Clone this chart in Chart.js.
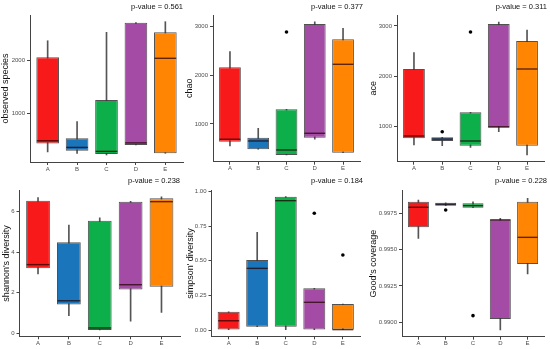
<!DOCTYPE html>
<html><head><meta charset="utf-8">
<script src="https://cdn.jsdelivr.net/npm/chart.js@4.4.0/dist/chart.umd.min.js"></script>
<style>
html,body{margin:0;padding:0;background:#fff;}
body{width:550px;height:349px;position:relative;overflow:hidden;}
.p{position:absolute;}
</style></head><body>
<div class="p" style="left:0px;top:0px;width:184px;height:174px"><canvas id="c1"></canvas></div>
<div class="p" style="left:182px;top:0px;width:182px;height:174px"><canvas id="c2"></canvas></div>
<div class="p" style="left:367px;top:0px;width:181px;height:174px"><canvas id="c3"></canvas></div>
<div class="p" style="left:0px;top:174px;width:181px;height:175px"><canvas id="c4"></canvas></div>
<div class="p" style="left:183px;top:174px;width:181px;height:175px"><canvas id="c5"></canvas></div>
<div class="p" style="left:367px;top:174px;width:181px;height:175px"><canvas id="c6"></canvas></div>
<script>
// ---- data ----
const categories = ['A', 'B', 'C', 'D', 'E'];
const boxColors = ['#F81A1A', '#1B75BB', '#0DAF4A', '#A34BA5', '#FF8503'];

// observed species
const obsLow  = [270, 244, 212, 400, 244];
const obsQ1   = [430, 293, 231, 400, 244];
const obsMed  = [480, 355, 280, 440, 2034];
const obsQ3   = [2055, 527, 1248, 2705, 2524];
const obsHigh = [2365, 840, 2524, 2705, 2724];
const obsOutCat = [];
const obsOutVal = [];
const obsTicks = ['1000', '2000'];

// chao
const chaoLow  = [548, 480, 363, 686, 410];
const chaoQ1   = [636, 480, 363, 718, 410];
const chaoMed  = [686, 651, 466, 809, 2227];
const chaoQ3   = [2165, 718, 1302, 3055, 2741];
const chaoHigh = [2486, 912, 1302, 3102, 2967];
const chaoOutCat = ['C'];
const chaoOutVal = [2891];
const chaoTicks = ['1000', '2000', '3000'];

// ace
const aceLow  = [620, 606, 574, 886, 420];
const aceQ1   = [754, 700, 606, 966, 606];
const aceMed  = [800, 740, 700, 986, 2140];
const aceQ3   = [2140, 774, 1274, 3040, 2700];
const aceHigh = [2466, 774, 1274, 3080, 2920];
const aceOutCat = ['B', 'C'];
const aceOutVal = [886, 2880];
const aceTicks = ['1000', '2000', '3000'];

// shannon's diversity
const shanLow  = [2.92, 0.87, 0.16, 0.59, 1.03];
const shanQ1   = [3.20, 1.41, 0.16, 2.15, 2.29];
const shanMed  = [3.38, 1.60, 0.26, 2.39, 6.48];
const shanQ3   = [6.53, 4.48, 5.54, 6.48, 6.65];
const shanHigh = [6.68, 5.33, 5.69, 6.50, 6.72];
const shanOutCat = [];
const shanOutVal = [];
const shanTicks = ['0', '2', '4', '6'];

// simpson' diversity
const simpLow  = [0.000, 0.024, 0.000, 0.000, 0.000];
const simpQ1   = [0.000, 0.024, 0.024, 0.000, 0.000];
const simpMed  = [0.067, 0.445, 0.933, 0.200, 0.003];
const simpQ3   = [0.132, 0.505, 0.962, 0.301, 0.188];
const simpHigh = [0.132, 0.705, 0.962, 0.301, 0.188];
const simpOutCat = ['D', 'E'];
const simpOutVal = [0.842, 0.541];
const simpTicks = ['0.00', '0.25', '0.50', '0.75', '1.00'];

// Good's coverage
const goodLow  = [0.99578, 0.99803, 0.99789, 0.98947, 0.99333];
const goodQ1   = [0.99654, 0.99803, 0.99789, 0.99023, 0.99401];
const goodMed  = [0.99792, 0.99812, 0.99803, 0.99704, 0.99585];
const goodQ3   = [0.99830, 0.99823, 0.99819, 0.99709, 0.99830];
const goodHigh = [0.99842, 0.99823, 0.99830, 0.99716, 0.99854];
const goodOutCat = ['B', 'C'];
const goodOutVal = [0.99773, 0.99046];
const goodTicks = ['0.9900', '0.9925', '0.9950', '0.9975'];

const pValues = ['0.561', '0.377', '0.311', '0.238', '0.184', '0.228'];
const yTitles = ['observed species', 'chao', 'ace', "shannon's diversity", "simpson' diversity", "Good's coverage"];

// ---- panels ----
const panels = [
  {id:'c1', low:obsLow, q1:obsQ1, med:obsMed, q3:obsQ3, high:obsHigh, outCat:obsOutCat, outVal:obsOutVal, ticks:obsTicks, min:80, max:2850, p:pValues[0], title:yTitles[0],
   L:{yw:30, xh:12, tp:2.5, bp:3.5, tpad:0.6}},
  {id:'c2', low:chaoLow, q1:chaoQ1, med:chaoMed, q3:chaoQ3, high:chaoHigh, outCat:chaoOutCat, outVal:chaoOutVal, ticks:chaoTicks, min:225, max:3240, p:pValues[1], title:yTitles[1],
   L:{yw:31, xh:12.3, tp:2.5, bp:3.5, tpad:2.6}},
  {id:'c3', low:aceLow, q1:aceQ1, med:aceMed, q3:aceQ3, high:aceHigh, outCat:aceOutCat, outVal:aceOutVal, ticks:aceTicks, min:286, max:3220, p:pValues[2], title:yTitles[2],
   L:{yw:30, xh:12.3, tp:2.5, bp:3.5, tpad:1.6}},
  {id:'c4', low:shanLow, q1:shanQ1, med:shanMed, q3:shanQ3, high:shanHigh, outCat:shanOutCat, outVal:shanOutVal, ticks:shanTicks, min:-0.15, max:7.02, p:pValues[3], title:yTitles[3],
   L:{yw:19.5, xh:12.7, tp:2.8, bp:4.9, tpad:1.6}},
  {id:'c5', low:simpLow, q1:simpQ1, med:simpMed, q3:simpQ3, high:simpHigh, outCat:simpOutCat, outVal:simpOutVal, ticks:simpTicks, min:-0.045, max:1.005, p:pValues[4], title:yTitles[4],
   L:{yw:28.5, xh:12.7, tp:2.8, bp:4.9, tpad:2.6}},
  {id:'c6', low:goodLow, q1:goodQ1, med:goodMed, q3:goodQ3, high:goodHigh, outCat:goodOutCat, outVal:goodOutVal, ticks:goodTicks, min:0.98901, max:0.99906, p:pValues[5], title:yTitles[5],
   L:{yw:35, xh:12.3, tp:2.8, bp:4.9, tpad:1.6}}
];

const FONT = "'Liberation Sans', Arial, sans-serif";
Chart.defaults.font.family = FONT;

function makePanel(d) {
  const L = d.L;
  const medianPlugin = {
    id: 'medianLines',
    afterDatasetsDraw(chart) {
      const ctx = chart.ctx;
      const meta = chart.getDatasetMeta(1);
      const ys = chart.scales.y;
      ctx.save();
      ctx.strokeStyle = 'rgba(35,0,0,0.72)';
      ctx.lineWidth = 1.4;
      meta.data.forEach((bar, i) => {
        const yy = ys.getPixelForValue(d.med[i]);
        const half = bar.width / 2;
        ctx.beginPath();
        ctx.moveTo(bar.x - half + 0.5, yy);
        ctx.lineTo(bar.x + half - 0.5, yy);
        ctx.stroke();
      });
      ctx.restore();
    }
  };
  const pts = d.outCat.map((c, i) => ({x: categories.indexOf(c) + 1, y: d.outVal[i]}));
  const grid = {display:true, drawOnChartArea:false, drawTicks:true, tickLength:3, color:'#444', offset:false};
  const border = {display:true, color:'#444', width:1};
  new Chart(document.getElementById(d.id), {
    type: 'bar',
    data: {
      datasets: [
        {type:'scatter', data:pts, pointRadius:1.8, pointBackgroundColor:'#000', pointBorderWidth:0, order:0},
        {data: categories.map((c, i) => ({x:i + 1, y:[d.q1[i], d.q3[i]]})),
         backgroundColor: boxColors, borderColor:'rgba(50,50,50,0.85)', borderWidth:1, borderSkipped:false,
         grouped:false, categoryPercentage:1, barPercentage:0.77, order:1},
        {data: categories.map((c, i) => ({x:i + 1, y:[d.low[i], d.high[i]]})),
         backgroundColor:'#555', borderWidth:0, barThickness:1, grouped:false, order:2}
      ]
    },
    options: {
      responsive:true, maintainAspectRatio:false, animation:false, devicePixelRatio:1,
      layout:{padding:{left:0, right:1, top:0, bottom:0}},
      plugins:{
        legend:{display:false}, tooltip:{enabled:false},
        title:{display:true, text:'p-value = ' + d.p, align:'end', color:'#111',
               font:{family:FONT, size:7.5, weight:'normal', lineHeight:1.2},
               padding:{top:L.tp, bottom:L.bp}}
      },
      scales:{
        x:{type:'linear', min:0.4, max:5.6, offset:false,
           afterBuildTicks: s => { s.ticks = categories.map((c, i) => ({value:i + 1})); },
           afterFit: s => { s.height = L.xh; },
           ticks:{callback: v => categories[Math.round(v) - 1], color:'#4d4d4d', font:{size:6}, padding:0.5, autoSkip:false, maxRotation:0},
           grid:grid, border:border},
        y:{type:'linear', min:d.min, max:d.max,
           afterBuildTicks: s => { s.ticks = d.ticks.map(t => ({value:parseFloat(t)})); },
           afterFit: s => { s.width = L.yw; },
           ticks:{callback: (v, i) => d.ticks[i], color:'#4d4d4d', font:{size:6}, padding:2, autoSkip:false},
           title:{display:true, text:d.title, color:'#111', font:{size:9, lineHeight:1.2}, padding:{top:L.tpad, bottom:0}},
           grid:grid, border:border}
      }
    },
    plugins:[medianPlugin]
  });
}
panels.forEach(makePanel);
</script>
</body></html>
